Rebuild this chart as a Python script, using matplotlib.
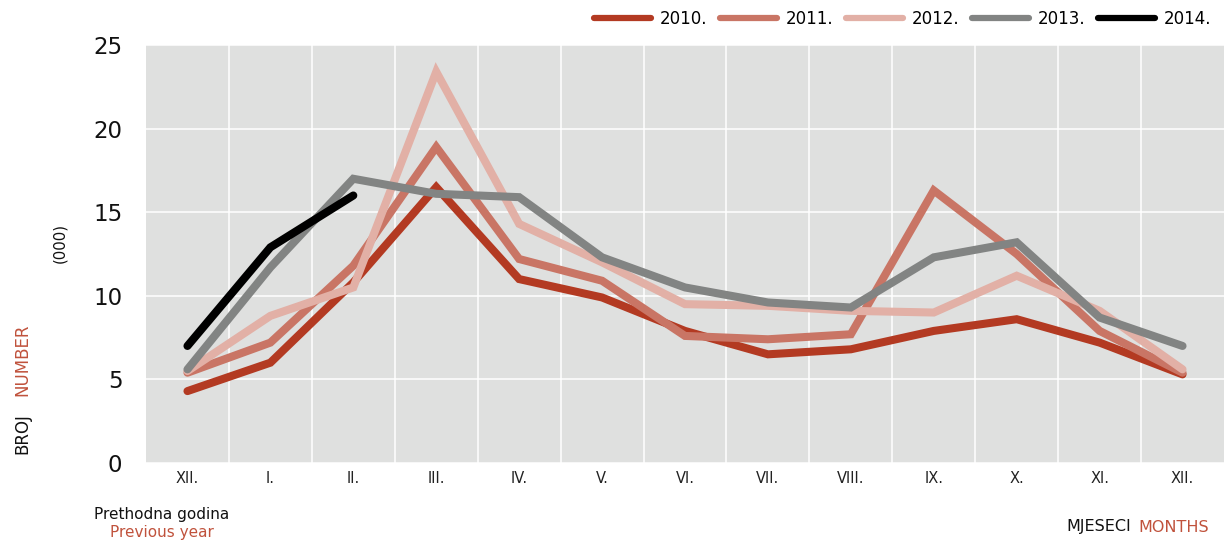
import matplotlib.pyplot as plt
import numpy as np

months = ["XII.", "I.", "II.", "III.", "IV.", "V.", "VI.", "VII.", "VIII.", "IX.", "X.", "XI.", "XII."]
years = ["2010.", "2011.", "2012.", "2013.", "2014."]

v2010 = [4.3, 6.0, 10.8, 16.5, 11.0, 9.9, 7.9, 6.5, 6.8, 7.9, 8.6, 7.2, 5.3]
v2011 = [5.4, 7.2, 11.8, 18.9, 12.2, 10.9, 7.6, 7.4, 7.7, 16.3, 12.5, 7.9, 5.4]
v2012 = [5.5, 8.8, 10.5, 23.4, 14.3, 12.0, 9.5, 9.4, 9.1, 9.0, 11.2, 9.1, 5.6]
v2013 = [5.6, 11.7, 17.0, 16.1, 15.9, 12.3, 10.5, 9.6, 9.3, 12.3, 13.2, 8.7, 7.0]
v2014 = [7.0, 12.9, 16.0]

colors = ["#b33a22", "#c97565", "#e2b0a6", "#828483", "#000000"]
series = [v2010, v2011, v2012, v2013, v2014]
red = "#c0523c"

fig = plt.figure(figsize=(12.3, 5.41), dpi=100)
ax = fig.add_axes([146/1230, 1 - 463/541, 1078/1230, 418/541])
ax.set_facecolor("#dfe0df")

for vals, c, lab in zip(series, colors, years):
    ax.plot(np.arange(len(vals)), vals, color=c, lw=5.8, label=lab,
            solid_capstyle="round", solid_joinstyle="miter")

ax.set_xlim(-0.5, 12.5)
ax.set_ylim(0, 25)
ax.set_yticks([0, 5, 10, 15, 20, 25])
ax.set_xticks(range(13))
ax.set_xticklabels(months)
ax.set_xticks(np.arange(0.5, 12.5, 1), minor=True)
ax.grid(which="minor", axis="x", color="white", lw=1.1)
ax.grid(which="major", axis="y", color="white", lw=1.1)
ax.set_axisbelow(True)
for s in ax.spines.values():
    s.set_visible(False)
ax.tick_params(axis="y", length=0, pad=17, labelsize=16.5, labelcolor="#111111")
ax.tick_params(axis="x", which="both", length=0, pad=6, labelsize=10.5, labelcolor="#222222")

leg = fig.legend(loc="upper right", bbox_to_anchor=(0.997, 1.01), ncol=5, frameon=False,
                 fontsize=12, handlelength=3.4, handletextpad=0.55, columnspacing=0.75)
for h in leg.get_lines():
    h.set_linewidth(4.5)

# axis titles
fig.text(22/1230, 1 - 434/541, "BROJ", rotation=90, ha="center", va="center", fontsize=12, color="#111111")
fig.text(22/1230, 1 - 360/541, "NUMBER", rotation=90, ha="center", va="center", fontsize=12, color=red)
fig.text(60/1230, 1 - 243/541, "(000)", rotation=90, ha="center", va="center", fontsize=10.7, color="#111111")
fig.text(162/1230, 1 - 515/541, "Prethodna godina", ha="center", va="center", fontsize=11, color="#111111")
fig.text(162/1230, 1 - 533/541, "Previous year", ha="center", va="center", fontsize=11, color=red)
fig.text(1131/1230, 1 - 527/541, "MJESECI", ha="right", va="center", fontsize=11.5, color="#111111")
fig.text(1138/1230, 1 - 527/541, "MONTHS", ha="left", va="center", fontsize=11.5, color=red)

fig.savefig("out.png", dpi=100)
